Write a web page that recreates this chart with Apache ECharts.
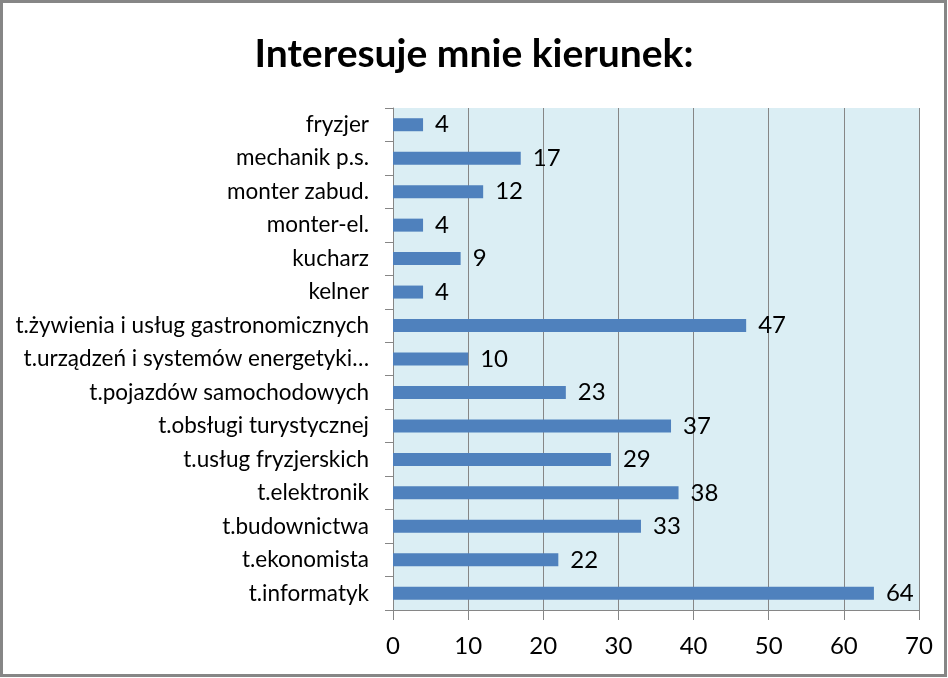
<!DOCTYPE html>
<html>
<head>
<meta charset="utf-8">
<script src="https://cdn.jsdelivr.net/npm/echarts@6/dist/echarts.min.js"></script>
<style>
    html, body { margin: 0; padding: 0; background: #fff; }
    #chart { width: 948px; height: 678px; }
</style>
</head>
<body>
<div id="chart"></div>
<script>
// kategorie od dołu do góry (tak jak na osi)
const categories = [
    't.informatyk',
    't.ekonomista',
    't.budownictwa',
    't.elektronik',
    't.usług fryzjerskich',
    't.obsługi turystycznej',
    't.pojazdów samochodowych',
    't.urządzeń i systemów energetyki…',
    't.żywienia i usług gastronomicznych',
    'kelner',
    'kucharz',
    'monter-el.',
    'monter zabud.',
    'mechanik p.s.',
    'fryzjer'
];
const values = [64, 22, 33, 38, 29, 37, 23, 10, 47, 4, 9, 4, 12, 17, 4];
const xTicks = [0, 10, 20, 30, 40, 50, 60, 70];

const font = 'Lato, "Open Sans", sans-serif';
const chart = echarts.init(document.getElementById('chart'));

chart.setOption({
    backgroundColor: '#fff',
    animation: false,
    title: {
        text: 'Interesuje mnie kierunek:',
        left: 'center',
        top: 30,
        textStyle: { fontFamily: font, fontSize: 39, fontWeight: 'bold', color: '#000' }
    },
    graphic: [{
        type: 'rect',
        shape: { x: 1.5, y: 1.5, width: 944, height: 674 },
        style: { fill: 'none', stroke: '#868686', lineWidth: 3 },
        z: 100
    }],
    grid: {
        left: 393,
        right: 29,
        top: 108,
        bottom: 68,
        show: true,
        backgroundColor: '#DBEEF4',
        borderWidth: 0
    },
    xAxis: {
        type: 'value',
        min: xTicks[0],
        max: xTicks[xTicks.length - 1],
        interval: 10,
        axisLine: { show: true, lineStyle: { color: '#868686', width: 1 } },
        axisTick: { show: true, length: 10, lineStyle: { color: '#868686' } },
        splitLine: { show: true, lineStyle: { color: '#868686', width: 1 } },
        axisLabel: { fontFamily: font, fontSize: 24, color: '#000', margin: 24 }
    },
    yAxis: {
        type: 'category',
        data: categories,
        axisLine: { show: true, lineStyle: { color: '#868686', width: 1 } },
        axisTick: { show: true, length: 8, lineStyle: { color: '#868686' } },
        axisLabel: { fontFamily: font, fontSize: 22.5, color: '#000', margin: 24 }
    },
    series: [{
        type: 'bar',
        data: values,
        barWidth: 13,
        itemStyle: { color: '#4F81BD' },
        label: {
            show: true,
            position: 'right',
            distance: 12,
            fontFamily: font,
            fontSize: 24,
            color: '#000'
        }
    }]
});
</script>
</body>
</html>
